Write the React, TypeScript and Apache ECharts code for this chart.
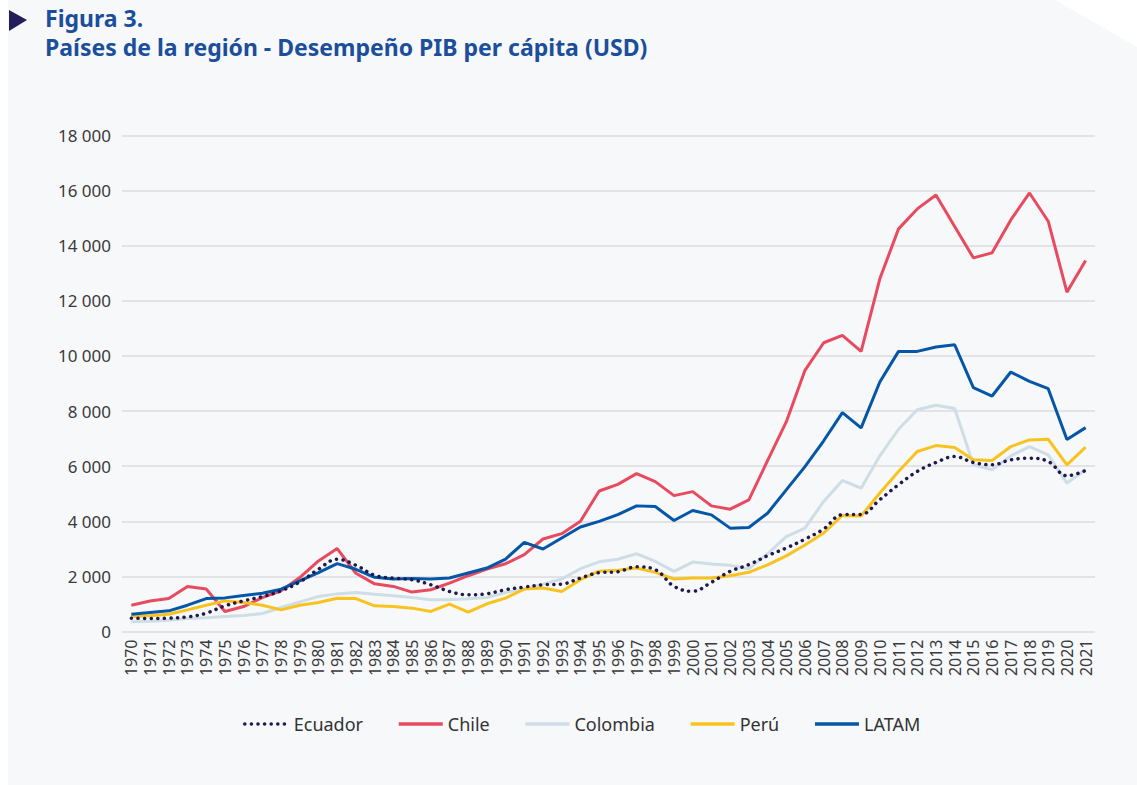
import React, { useEffect, useRef } from "react";
import * as echarts from "echarts";

const years: string[] = [];
for (let y = 1970; y <= 2021; y++) years.push(String(y));

const ecuador = [483, 471, 483, 531, 664, 930, 1111, 1268, 1474, 1800, 2259, 2621, 2404, 2040, 1939, 1879, 1697, 1454, 1333, 1370, 1515, 1612, 1697, 1721, 1939, 2135, 2170, 2350, 2243, 1640, 1459, 1785, 2183, 2424, 2750, 3030, 3350, 3720, 4240, 4250, 4784, 5326, 5808, 6133, 6350, 6133, 6049, 6230, 6290, 6170, 5651, 5844];
const chile = [955, 1110, 1195, 1630, 1540, 725, 906, 1232, 1474, 1957, 2561, 3008, 2114, 1730, 1636, 1430, 1515, 1757, 2024, 2266, 2460, 2788, 3357, 3551, 4000, 5100, 5340, 5730, 5440, 4930, 5077, 4559, 4438, 4776, 6199, 7605, 9477, 10479, 10745, 10165, 12799, 14611, 15336, 15843, 14695, 13560, 13741, 14937, 15915, 14889, 12316, 13463];
const colombia = [350, 375, 411, 471, 500, 540, 580, 652, 870, 1075, 1268, 1365, 1413, 1350, 1297, 1236, 1151, 1151, 1188, 1236, 1418, 1539, 1721, 1903, 2279, 2530, 2620, 2822, 2545, 2183, 2521, 2448, 2400, 2279, 2820, 3440, 3755, 4720, 5480, 5200, 6375, 7340, 8045, 8213, 8092, 6049, 5868, 6375, 6712, 6411, 5386, 5868];
const peru = [544, 568, 628, 785, 954, 1111, 1051, 954, 785, 954, 1051, 1208, 1196, 930, 909, 848, 727, 994, 703, 1006, 1212, 1539, 1576, 1454, 1879, 2190, 2225, 2303, 2147, 1905, 1942, 1942, 2026, 2147, 2420, 2745, 3140, 3575, 4213, 4190, 5025, 5808, 6531, 6748, 6676, 6230, 6206, 6712, 6953, 6977, 6049, 6688];
const latam = [628, 689, 749, 954, 1196, 1220, 1305, 1389, 1534, 1836, 2138, 2464, 2259, 1965, 1903, 1927, 1903, 1939, 2121, 2303, 2630, 3236, 2994, 3394, 3794, 3995, 4240, 4559, 4535, 4028, 4390, 4233, 3751, 3775, 4293, 5138, 5982, 6922, 7945, 7390, 9054, 10165, 10165, 10322, 10407, 8849, 8546, 9416, 9078, 8812, 6964, 7399];

const titleLine1 = "Figura 3.";
const titleLine2 = "Países de la región - Desempeño PIB per cápita (USD)";

const FONT = "'Noto Sans', 'Open Sans', sans-serif";

export default function App() {
  const ref = useRef<HTMLDivElement>(null);
  useEffect(() => {
    if (!ref.current) return;
    const chart = echarts.init(ref.current, null, { renderer: "svg" });
    const mk = (name: string, data: number[], color: string, extra: any = {}) => ({
      name,
      type: "line",
      data,
      symbol: "none",
      lineStyle: { color, width: 3, ...(extra.lineStyle || {}) },
      itemStyle: { color },
      smooth: extra.smooth || false,
      z: extra.z || 2,
    });
    chart.setOption({
      animation: false,
      textStyle: { fontFamily: FONT },
      graphic: [
        {
          type: "polygon",
          z: -10,
          silent: true,
          shape: { points: [[8, 0], [1055, 0], [1137, 47], [1137, 785], [8, 785]] },
          style: { fill: "#f7f8fa" },
        },
        {
          type: "polygon",
          shape: { points: [[9, 10], [27, 20], [9, 31]] },
          style: { fill: "#231d5c" },
        },
        {
          type: "text",
          x: 45,
          y: 6,
          style: { text: titleLine1, fill: "#1b4e9b", font: `bold 23px ${FONT}` },
        },
        {
          type: "text",
          x: 45,
          y: 35,
          style: { text: titleLine2, fill: "#1b4e9b", font: `bold 23px ${FONT}` },
        },
      ],
      grid: { left: 122, right: 42, top: 135.5, height: 496, containLabel: false },
      xAxis: {
        type: "category",
        data: years,
        boundaryGap: true,
        axisLine: { show: false },
        axisTick: { show: false },
        axisLabel: { rotate: 90, interval: 0, fontSize: 16, color: "#3a3a3a", margin: 8 },
      },
      yAxis: {
        type: "value",
        min: 0,
        max: 18000,
        interval: 2000,
        axisLine: { show: false },
        axisTick: { show: false },
        axisLabel: {
          fontSize: 17,
          color: "#3a3a3a",
          margin: 11,
          formatter: (v: number) => String(v).replace(/\B(?=(\d{3})+(?!\d))/g, " "),
        },
        splitLine: { lineStyle: { color: "#dcdde1", width: 1.5 } },
      },
      legend: {
        left: 238,
        top: 710,
        itemWidth: 44,
        itemHeight: 14,
        itemGap: 34,
        itemStyle: { opacity: 0 },
        lineStyle: { width: 3.5 },
        textStyle: { fontSize: 18, color: "#333", fontFamily: FONT },
        data: ["Ecuador", "Chile", "Colombia", "Perú", "LATAM"],
      },
      series: [
        mk("Ecuador", ecuador, "#1f1a4e", { smooth: 0.4, z: 4, lineStyle: { type: [0.1, 6.5], cap: "round", width: 3.5 } }),
        mk("Chile", chile, "#e84a5f"),
        mk("Colombia", colombia, "#cfdde6", { z: 1 }),
        mk("Perú", peru, "#f9c31f"),
        mk("LATAM", latam, "#0456a6", { z: 3 }),
      ],
    });
    return () => chart.dispose();
  }, []);
  return (
    <div style={{ position: "fixed", left: 0, top: 0, width: 1137, height: 785, background: "#ffffff" }}>
      <div ref={ref} style={{ width: 1137, height: 785 }} />
    </div>
  );
}
